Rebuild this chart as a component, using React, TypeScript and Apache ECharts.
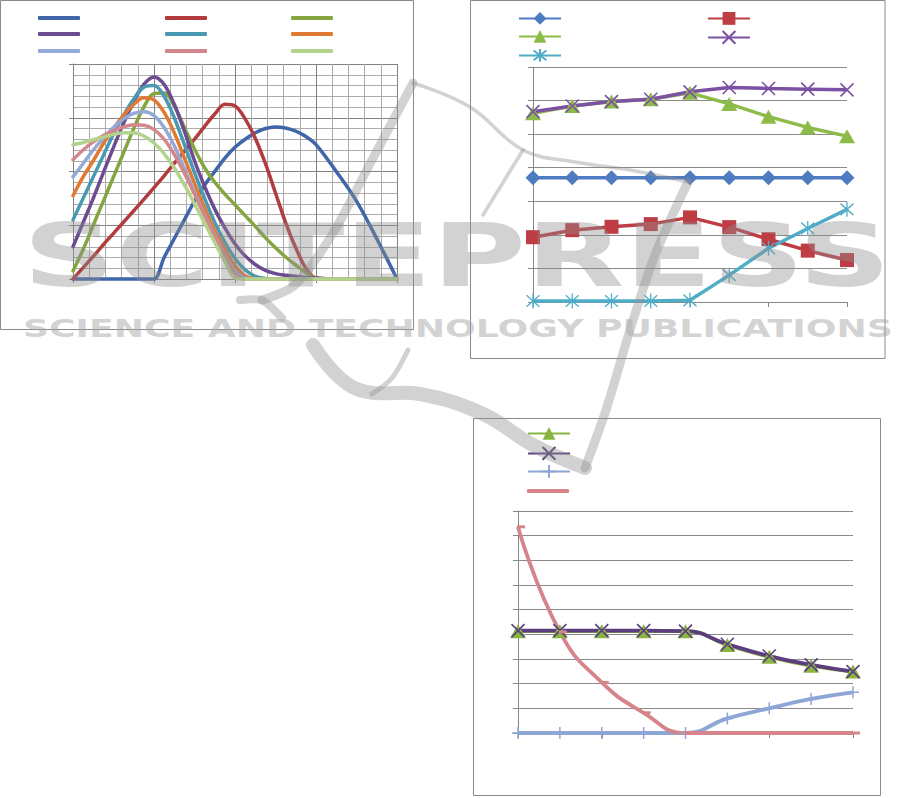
import React, { useEffect, useRef } from "react";
import * as echarts from "echarts";

// ---------- Chart 1 (smooth curves, value axes) ----------
const C1_X = [
  0, 0.125, 0.25, 0.375, 0.5, 0.625, 0.75, 0.875, 1, 1.125, 1.25, 1.375, 1.5, 1.625, 1.75, 1.875,
  2, 2.125, 2.25, 2.375, 2.5, 2.625, 2.75, 2.875, 3, 3.25, 3.5, 3.75, 4,
];
const C1_BLUE = [
  0, 0, 0, 0, 0, 0, 0, 0, 0, 0.4, 0.75, 1.1, 1.45, 1.75, 2.0, 2.25,
  2.45, 2.6, 2.72, 2.8, 2.83, 2.81, 2.75, 2.65, 2.5, 2.0, 1.45, 0.75, 0,
];
const C1_RED = [
  0, 0.21, 0.42, 0.64, 0.85, 1.06, 1.27, 1.48, 1.7, 1.92, 2.15, 2.38, 2.6, 2.84, 3.07, 3.25,
  3.22, 2.98, 2.62, 2.15, 1.6, 1.05, 0.58, 0.2, 0.02, 0, 0, 0, 0,
];
const C1_GREEN = [
  0.15, 0.55, 1.0, 1.45, 1.9, 2.35, 2.8, 3.2, 3.45, 3.46, 3.22, 2.82, 2.42, 2.07, 1.8, 1.58,
  1.38, 1.18, 0.98, 0.77, 0.58, 0.41, 0.26, 0.12, 0.02, 0, 0, 0, 0,
];
const C1_PURPLE = [
  0.6, 1.05, 1.5, 1.98, 2.45, 2.9, 3.3, 3.62, 3.76, 3.62, 3.25, 2.75, 2.2, 1.72, 1.3, 0.95,
  0.65, 0.43, 0.27, 0.16, 0.1, 0.07, 0.05, 0.03, 0.02, 0, 0, 0, 0,
];
const C1_AQUA = [
  1.1, 1.5, 1.9, 2.3, 2.7, 3.05, 3.35, 3.57, 3.6, 3.4, 3.0, 2.5, 1.98, 1.5, 1.05, 0.68,
  0.38, 0.17, 0.05, 0.01, 0, 0, 0, 0, 0, 0, 0, 0, 0,
];
const C1_ORANGE = [
  1.55, 1.9, 2.2, 2.52, 2.8, 3.05, 3.25, 3.37, 3.33, 3.1, 2.72, 2.25, 1.78, 1.32, 0.9, 0.55,
  0.25, 0.06, 0, 0, 0, 0, 0, 0, 0, 0, 0, 0, 0,
];
const C1_LBLUE = [
  1.9, 2.15, 2.4, 2.62, 2.82, 2.98, 3.08, 3.11, 3.04, 2.82, 2.48, 2.05, 1.62, 1.2, 0.82, 0.45,
  0.15, 0.02, 0, 0, 0, 0, 0, 0, 0, 0, 0, 0, 0,
];
const C1_PINK = [
  2.22, 2.4, 2.55, 2.67, 2.76, 2.83, 2.87, 2.86, 2.78, 2.6, 2.32, 1.97, 1.58, 1.18, 0.8, 0.42,
  0.1, 0, 0, 0, 0, 0, 0, 0, 0, 0, 0, 0, 0,
];
const C1_LGREEN = [
  2.5, 2.54, 2.59, 2.64, 2.69, 2.72, 2.72, 2.66, 2.53, 2.33, 2.07, 1.75, 1.4, 1.04, 0.68, 0.33,
  0.02, 0, 0, 0, 0, 0, 0, 0, 0, 0, 0, 0, 0,
];

// ---------- Chart 2 (markers, category axis) ----------
const C2_CATS = [1, 2, 3, 4, 5, 6, 7, 8, 9];
const C2_BLUE = [3.7, 3.7, 3.7, 3.7, 3.7, 3.7, 3.7, 3.7, 3.7];
const C2_RED = [1.93, 2.14, 2.24, 2.32, 2.52, 2.23, 1.87, 1.53, 1.25];
const C2_GREEN = [5.62, 5.84, 5.97, 6.04, 6.23, 5.9, 5.52, 5.2, 4.94];
const C2_PURPLE = [5.67, 5.84, 5.97, 6.04, 6.26, 6.39, 6.36, 6.34, 6.32];
const C2_AQUA = [0.03, 0.03, 0.03, 0.03, 0.05, 0.8, 1.6, 2.19, 2.76];

// ---------- Chart 3 ----------
const C3_CATS = [1, 2, 3, 4, 5, 6, 7, 8, 9];
const C3_GREEN = [4.13, 4.13, 4.13, 4.13, 4.13, 3.57, 3.09, 2.73, 2.49];
const C3_PURPLE = [4.15, 4.15, 4.15, 4.15, 4.13, 3.6, 3.12, 2.76, 2.49];
const C3_LBLUE = [0, 0, 0, 0, 0, 0.59, 1.0, 1.38, 1.65];
const C3_PINK = [8.36, 4.1, 2.05, 0.82, 0, 0, 0, 0, 0];

// ---------- Watermark text ----------
const WM_BIG = "SCITEPRESS";
const WM_SMALL = "SCIENCE AND TECHNOLOGY PUBLICATIONS";

const SYM_X = "path://M0,0L10,10M10,0L0,10";
const SYM_AST = "path://M0,0L10,10M10,0L0,10M5,-1.5L5,11.5";
const SYM_PLUS = "path://M5,0L5,10M0,5L10,5";

function measure(text: string, font: string): number {
  const ctx = document.createElement("canvas").getContext("2d");
  if (!ctx) return text.length * 60;
  ctx.font = font;
  return ctx.measureText(text).width;
}

export default function App() {
  const ref = useRef<HTMLDivElement>(null);

  useEffect(() => {
    if (!ref.current) return;
    const chart = echarts.init(ref.current, undefined, { renderer: "svg" });

    const c1 = [
      { name: "c1a", color: "#3f66a8", values: C1_BLUE },
      { name: "c1b", color: "#b23b3d", values: C1_RED },
      { name: "c1c", color: "#84a540", values: C1_GREEN },
      { name: "c1d", color: "#6c4b91", values: C1_PURPLE },
      { name: "c1e", color: "#4899b1", values: C1_AQUA },
      { name: "c1f", color: "#e07a33", values: C1_ORANGE },
      { name: "c1g", color: "#93a9d8", values: C1_LBLUE },
      { name: "c1h", color: "#d3878c", values: C1_PINK },
      { name: "c1i", color: "#b3d28b", values: C1_LGREEN },
    ];
    const c1Legend = [
      [38, 18], [165, 18], [291, 18],
      [38, 34], [165, 34], [291, 34],
      [38, 51], [165, 51], [291, 51],
    ];

    const c2 = [
      { name: "c2a", color: "#4f7cc1", values: C2_BLUE, symbol: "diamond", size: 15, bw: 0 },
      { name: "c2b", color: "#be3c43", values: C2_RED, symbol: "rect", size: 14, bw: 0 },
      { name: "c2c", color: "#8dbb47", values: C2_GREEN, symbol: "triangle", size: [16, 14], bw: 0 },
      { name: "c2d", color: "#7b52a3", values: C2_PURPLE, symbol: SYM_X, size: 13, bw: 1.6 },
      { name: "c2e", color: "#4fadc7", values: C2_AQUA, symbol: SYM_AST, size: [13, 15], bw: 1.4 },
    ];
    const c2Legend = [[518, 20], [707, 20], [518, 38], [707, 38], [518, 56]];

    const c3 = [
      { name: "c3a", color: "#8ab540", values: C3_GREEN, symbol: "triangle", size: [16, 14], bw: 0, off: [0, 0] },
      { name: "c3b", color: "#5c3e7f", values: C3_PURPLE, symbol: SYM_X, size: 13, bw: 1.6, off: [0, 0] },
      { name: "c3c", color: "#8ea6d6", values: C3_LBLUE, symbol: SYM_PLUS, size: 12, bw: 1.5, off: [0, 0] },
      { name: "c3d", color: "#d5848a", values: C3_PINK, symbol: "rect", size: [8, 3], bw: 0, off: [3, 0] },
    ];
    const c3Legend = [[527, 435], [527, 454], [527, 472], [527, 491]];

    const legends: any[] = [];
    const addLegend = (name: string, left: number, cy: number, plain: boolean) => {
      const h = plain ? 4 : 16;
      legends.push({
        data: plain ? [{ name, icon: "roundRect" }] : [name],
        left,
        top: cy - h / 2,
        padding: 0,
        itemWidth: 42,
        itemHeight: h,
        itemGap: 0,
        selectedMode: false,
        formatter: () => "",
        textStyle: { fontSize: 4, lineHeight: h },
      });
    };
    c1.forEach((s, i) => addLegend(s.name, c1Legend[i][0], c1Legend[i][1], true));
    c2.forEach((s, i) => addLegend(s.name, c2Legend[i][0], c2Legend[i][1], false));
    c3.forEach((s, i) => addLegend(s.name, c3Legend[i][0], c3Legend[i][1], i === 3));

    const AX = "#868686";
    const series: any[] = [];
    c1.forEach((s) =>
      series.push({
        type: "line",
        name: s.name,
        xAxisIndex: 0,
        yAxisIndex: 0,
        data: C1_X.map((x, i) => [x, s.values[i]]),
        smooth: 0.35,
        symbol: "none",
        clip: false,
        lineStyle: { width: 3.5, color: s.color, cap: "round" },
        itemStyle: { color: s.color },
      })
    );
    c2.forEach((s) =>
      series.push({
        type: "line",
        name: s.name,
        xAxisIndex: 1,
        yAxisIndex: 1,
        data: s.values,
        symbol: s.symbol,
        symbolSize: s.size,
        showAllSymbol: true,
        clip: false,
        lineStyle: { width: 3.5, color: s.color },
        itemStyle: { color: s.color, borderColor: s.color, borderWidth: s.bw },
      })
    );
    c3.forEach((s) =>
      series.push({
        type: "line",
        name: s.name,
        xAxisIndex: 2,
        yAxisIndex: 2,
        data: s.values,
        smooth: 0.5,
        symbol: s.symbol,
        symbolSize: s.size,
        symbolOffset: s.off,
        showAllSymbol: true,
        clip: false,
        lineStyle: { width: 3.8, color: s.color },
        itemStyle: { color: s.color, borderColor: s.color, borderWidth: s.bw },
      })
    );

    const baseAxis = {
      axisLine: { show: true, onZero: false, lineStyle: { color: AX, width: 1 } },
      axisTick: { show: true, length: 5, lineStyle: { color: AX } },
      axisLabel: { show: false },
    };

    const bigFont = 'bold 88px "DejaVu Sans"';
    const smallFont = 'bold 25px "DejaVu Sans"';
    const bigScale = 868 / measure(WM_BIG, bigFont);
    const smallScale = 870 / measure(WM_SMALL, smallFont);
    const WM = "#8e8e8e";
    const wmStroke = (points: number[][], width: number, smooth = 0.4) => ({
      type: "polyline",
      z: 100,
      silent: true,
      shape: { points, smooth },
      style: { stroke: WM, lineWidth: width, fill: null, opacity: 0.4, lineCap: "round", lineJoin: "round" },
    });

    const option: any = {
      animation: false,
      backgroundColor: "#ffffff",
      legend: legends,
      grid: [
        { left: 73, top: 64, width: 324, height: 215, containLabel: false },
        { left: 533, top: 67, width: 314, height: 235, containLabel: false },
        { left: 518, top: 511, width: 335, height: 222, containLabel: false },
      ],
      xAxis: [
        {
          ...baseAxis,
          type: "value",
          gridIndex: 0,
          min: 0,
          max: 4,
          interval: 1,
          axisTick: { show: true, length: 4, lineStyle: { color: AX } },
          splitLine: { show: true, lineStyle: { color: "#828282", width: 1 } },
          minorTick: { show: false, splitNumber: 5 },
          minorSplitLine: { show: true, lineStyle: { color: "#ababab", width: 1 } },
        },
        {
          ...baseAxis,
          type: "category",
          gridIndex: 1,
          data: C2_CATS,
          boundaryGap: false,
          axisTick: { show: true, length: 5, interval: 1, lineStyle: { color: AX } },
          splitLine: { show: false },
        },
        {
          ...baseAxis,
          type: "category",
          gridIndex: 2,
          data: C3_CATS,
          boundaryGap: false,
          axisTick: { show: true, length: 5, interval: 1, lineStyle: { color: AX } },
          splitLine: { show: false },
        },
      ],
      yAxis: [
        {
          ...baseAxis,
          type: "value",
          gridIndex: 0,
          min: 0,
          max: 4,
          interval: 1,
          axisTick: { show: true, length: 4, lineStyle: { color: AX } },
          splitLine: { show: true, lineStyle: { color: "#828282", width: 1 } },
          minorTick: { show: false, splitNumber: 5 },
          minorSplitLine: { show: true, lineStyle: { color: "#ababab", width: 1 } },
        },
        {
          ...baseAxis,
          type: "value",
          gridIndex: 1,
          min: 0,
          max: 7,
          interval: 1,
          splitLine: { show: true, lineStyle: { color: "#8a8a8a", width: 1 } },
        },
        {
          ...baseAxis,
          type: "value",
          gridIndex: 2,
          min: 0,
          max: 9,
          interval: 1,
          splitLine: { show: true, lineStyle: { color: "#8a8a8a", width: 1 } },
        },
      ],
      series,
      graphic: [
        { type: "rect", z: 1, silent: true, shape: { x: 0.5, y: 0.5, width: 413, height: 329 }, style: { fill: null, stroke: "#8a8a8a", lineWidth: 1 } },
        { type: "rect", z: 1, silent: true, shape: { x: 470.5, y: 0.5, width: 414.5, height: 358 }, style: { fill: null, stroke: "#8a8a8a", lineWidth: 1 } },
        { type: "rect", z: 1, silent: true, shape: { x: 473.5, y: 418.5, width: 407, height: 377 }, style: { fill: null, stroke: "#8a8a8a", lineWidth: 1 } },
        // watermark logo strokes
        wmStroke([[413, 83], [372, 160], [333, 233], [295, 285], [262, 300]], 9, 0.3),
        wmStroke([[240, 300], [262, 300], [282, 318]], 8, 0.2),
        wmStroke([[413, 83], [470, 107], [523, 150], [575, 162], [630, 170], [688, 182]], 3.5, 0.4),
        wmStroke([[483, 215], [523, 150]], 3.5, 0),
        wmStroke([[688, 182], [655, 255], [630, 330], [606, 410], [585, 468]], 9, 0.3),
        wmStroke([[313, 345], [340, 378], [367, 392], [420, 394], [483, 414], [533, 445], [585, 468]], 14, 0.4),
        wmStroke([[408, 350], [392, 378], [372, 394]], 5, 0.3),
        {
          type: "text",
          z: 100,
          silent: true,
          x: 23,
          y: 256,
          scaleX: bigScale,
          style: { text: WM_BIG, font: bigFont, fill: WM, opacity: 0.4, align: "left", verticalAlign: "middle" },
        },
        {
          type: "text",
          z: 100,
          silent: true,
          x: 23,
          y: 328,
          scaleX: smallScale,
          style: { text: WM_SMALL, font: smallFont, fill: "#a8a8a8", opacity: 0.5, align: "left", verticalAlign: "middle" },
        },
      ],
    };

    chart.setOption(option);
    return () => chart.dispose();
  }, []);

  return (
    <div
      ref={ref}
      style={{ position: "absolute", left: 0, top: 0, width: 910, height: 798, background: "#fff" }}
    />
  );
}
